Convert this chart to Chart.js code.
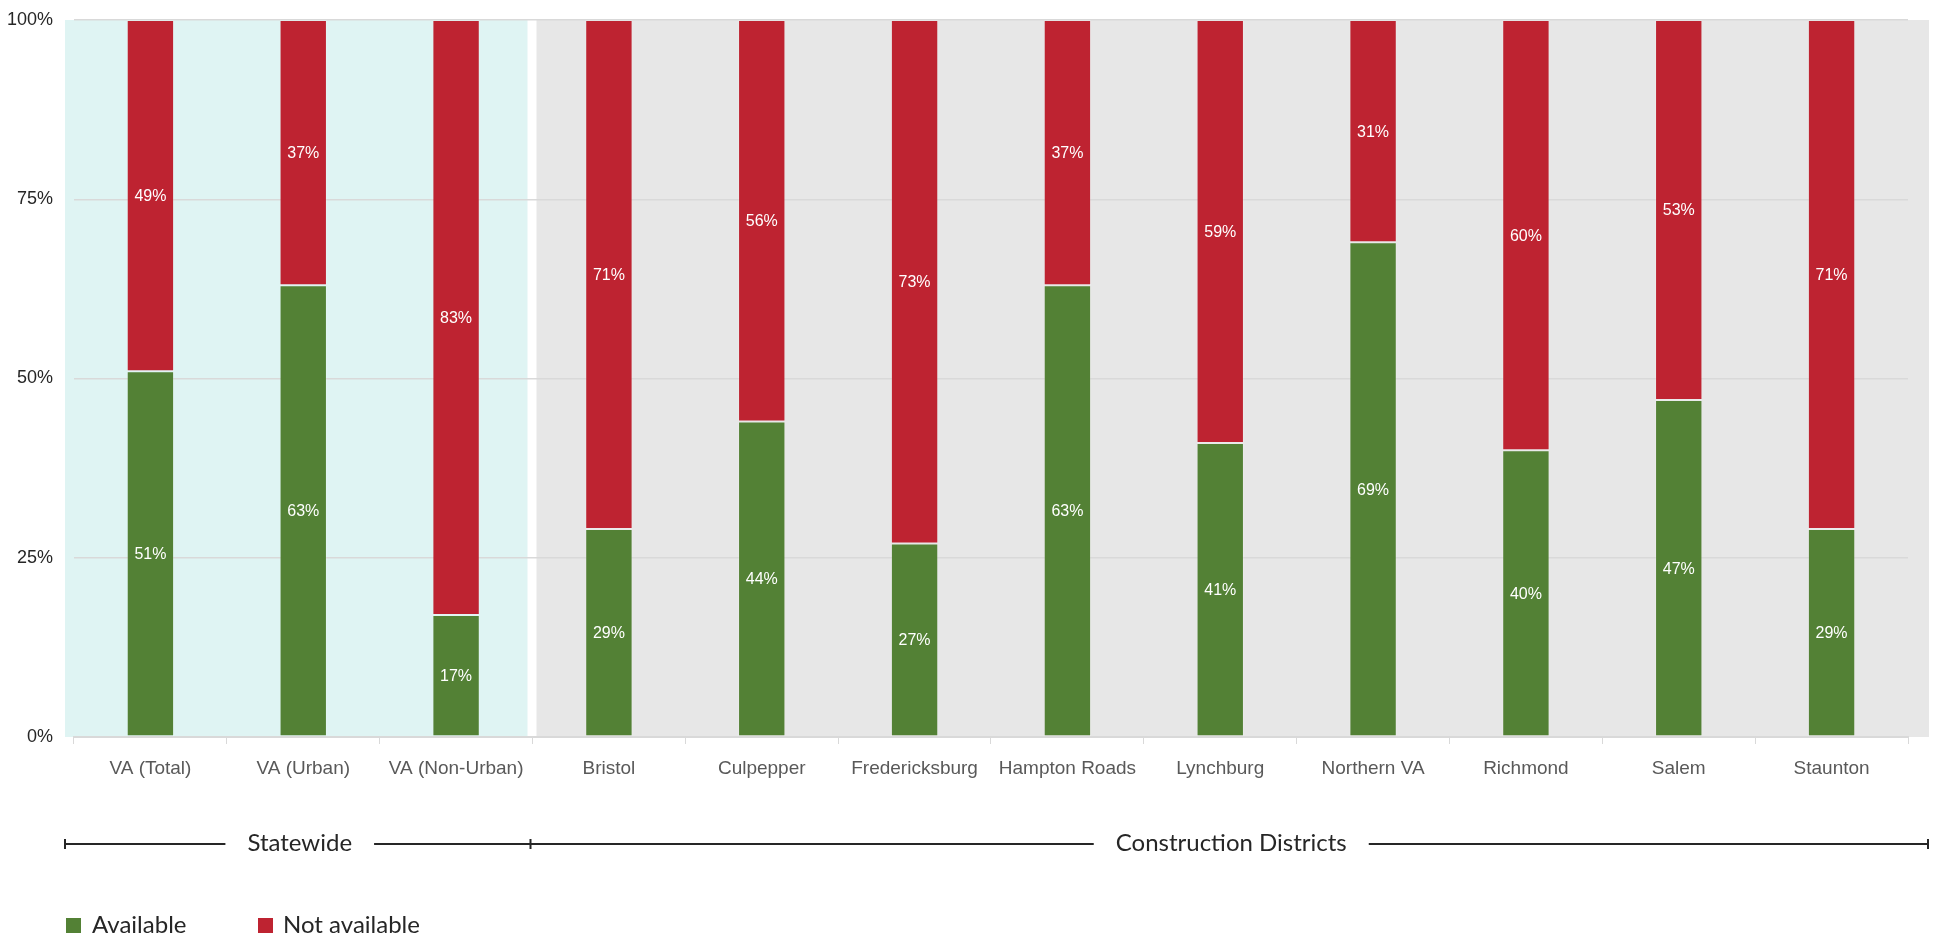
<!DOCTYPE html>
<html>
<head>
<meta charset="utf-8">
<script src="https://cdn.jsdelivr.net/npm/chart.js@4.4.1/dist/chart.umd.min.js"></script>
<style>
  html, body { margin: 0; padding: 0; background: #ffffff; }
  #wrap { width: 1939px; height: 938px; position: relative; }
</style>
</head>
<body>
<div id="wrap"><canvas id="c" width="1939" height="938"></canvas></div>
<script>
// ---- Data ----
const categories = ['VA (Total)', 'VA (Urban)', 'VA (Non-Urban)', 'Bristol', 'Culpepper', 'Fredericksburg',
  'Hampton Roads', 'Lynchburg', 'Northern VA', 'Richmond', 'Salem', 'Staunton'];
const availableValues    = [51, 63, 17, 29, 44, 27, 63, 41, 69, 40, 47, 29];
const notAvailableValues = [49, 37, 83, 71, 56, 73, 37, 59, 31, 60, 53, 71];
const seriesNames = ['Available', 'Not available'];
const yTickValues = [0, 25, 50, 75, 100];
const groupNames = ['Statewide', 'Construction Districts'];
const groupFirstIndex = [0, 3];
const groupLastIndex  = [2, 11];

// ---- Styles ----
const GREEN = '#538135';
const RED = '#BE2331';
const NARROW = '"Liberation Sans", Arial, sans-serif';
const GEO = 'Lato, "Noto Sans", sans-serif';

const bandsPlugin = {
  id: 'bands',
  beforeDraw(chart) {
    const { ctx, chartArea, scales } = chart;
    const x = scales.x;
    ctx.save();
    const boundary = x.getPixelForValue(groupLastIndex[0] + 0.5);
    ctx.fillStyle = '#DFF4F3';
    ctx.fillRect(chartArea.left - 9, chartArea.top, boundary - 5 - (chartArea.left - 9), chartArea.bottom - chartArea.top);
    ctx.fillStyle = '#E7E7E7';
    ctx.fillRect(boundary + 4, chartArea.top, chartArea.right + 21 - (boundary + 4), chartArea.bottom - chartArea.top);
    ctx.restore();
  }
};

const labelsPlugin = {
  id: 'segLabels',
  afterDatasetsDraw(chart) {
    const { ctx } = chart;
    ctx.save();
    ctx.font = '16px ' + NARROW;
    ctx.fillStyle = '#FFFFFF';
    ctx.textAlign = 'center';
    ctx.textBaseline = 'middle';
    chart.data.datasets.forEach((ds, di) => {
      const meta = chart.getDatasetMeta(di);
      meta.data.forEach((el, i) => {
        const p = el.getProps(['x', 'y', 'base'], true);
        ctx.fillText(ds.data[i] + '%', p.x, (p.y + p.base) / 2 + 1);
      });
    });
    ctx.restore();
  }
};

const groupsPlugin = {
  id: 'groups',
  afterDraw(chart) {
    const { ctx, chartArea, scales } = chart;
    const x = scales.x;
    const lineY = 844;
    const ends = [chartArea.left - 9, x.getPixelForValue(groupLastIndex[0] + 0.5) - 2, chartArea.right + 20];
    ctx.save();
    ctx.strokeStyle = '#262626';
    ctx.lineWidth = 2;
    ctx.font = '24px ' + GEO;
    ctx.textAlign = 'center';
    ctx.textBaseline = 'middle';
    ctx.fillStyle = '#262626';
    groupNames.forEach((name, g) => {
      const a = ends[g], b = ends[g + 1];
      const mid = (a + b) / 2 + 2;
      const w = ctx.measureText(name).width;
      ctx.beginPath();
      ctx.moveTo(a, lineY); ctx.lineTo(mid - w / 2 - 22, lineY);
      ctx.moveTo(mid + w / 2 + 22, lineY); ctx.lineTo(b, lineY);
      ctx.stroke();
      ctx.fillText(name, mid, lineY - 1);
    });
    ctx.beginPath();
    ends.forEach(e => { ctx.moveTo(e, lineY - 5); ctx.lineTo(e, lineY + 5); });
    ctx.stroke();

    // legend
    const legendY = 925;
    const items = [{ x: 66, tx: 92 }, { x: 258, tx: 283 }];
    ctx.textAlign = 'left';
    chart.data.datasets.forEach((ds, i) => {
      ctx.fillStyle = ds.backgroundColor;
      ctx.fillRect(items[i].x, legendY - 7, 15, 15);
      ctx.fillStyle = '#262626';
      ctx.fillText(ds.label, items[i].tx, legendY);
    });
    ctx.restore();
  }
};

new Chart(document.getElementById('c'), {
  type: 'bar',
  data: {
    labels: categories,
    datasets: [
      { label: seriesNames[0], data: availableValues, backgroundColor: GREEN,
        borderColor: 'rgba(255,255,255,0.15)', borderWidth: 1, borderSkipped: false },
      { label: seriesNames[1], data: notAvailableValues, backgroundColor: RED,
        borderColor: 'rgba(255,255,255,0.15)', borderWidth: 1, borderSkipped: false }
    ]
  },
  options: {
    responsive: false,
    animation: false,
    events: [],
    datasets: { bar: { barPercentage: 0.5, categoryPercentage: 0.62 } },
    layout: { padding: { left: 0, right: 31, top: 20, bottom: 0 } },
    plugins: { legend: { display: false }, tooltip: { enabled: false } },
    scales: {
      x: {
        stacked: true,
        afterFit(s) { s.height = 938 - 737; s.paddingLeft = 0; s.paddingRight = 0; },
        grid: { display: true, offset: true, drawOnChartArea: false, drawTicks: true, tickLength: 7,
          color: '#D9D9D9', lineWidth: 1 },
        border: { display: true, color: '#D9D9D9', width: 2 },
        ticks: { color: '#595959', font: { family: NARROW, size: 19 }, padding: 13, maxRotation: 0, autoSkip: false }
      },
      y: {
        stacked: true,
        min: 0, max: 100,
        afterFit(s) { s.width = 74; s.paddingTop = 0; s.paddingBottom = 0; },
        afterBuildTicks(s) { s.ticks = yTickValues.map(v => ({ value: v })); },
        grid: { color: '#D9D9D9', lineWidth: 1.5, drawTicks: false },
        border: { display: false },
        ticks: { color: '#262626', font: { family: NARROW, size: 18 }, padding: 21,
          callback: v => v + '%' }
      }
    }
  },
  plugins: [bandsPlugin, labelsPlugin, groupsPlugin]
});
</script>
</body>
</html>
